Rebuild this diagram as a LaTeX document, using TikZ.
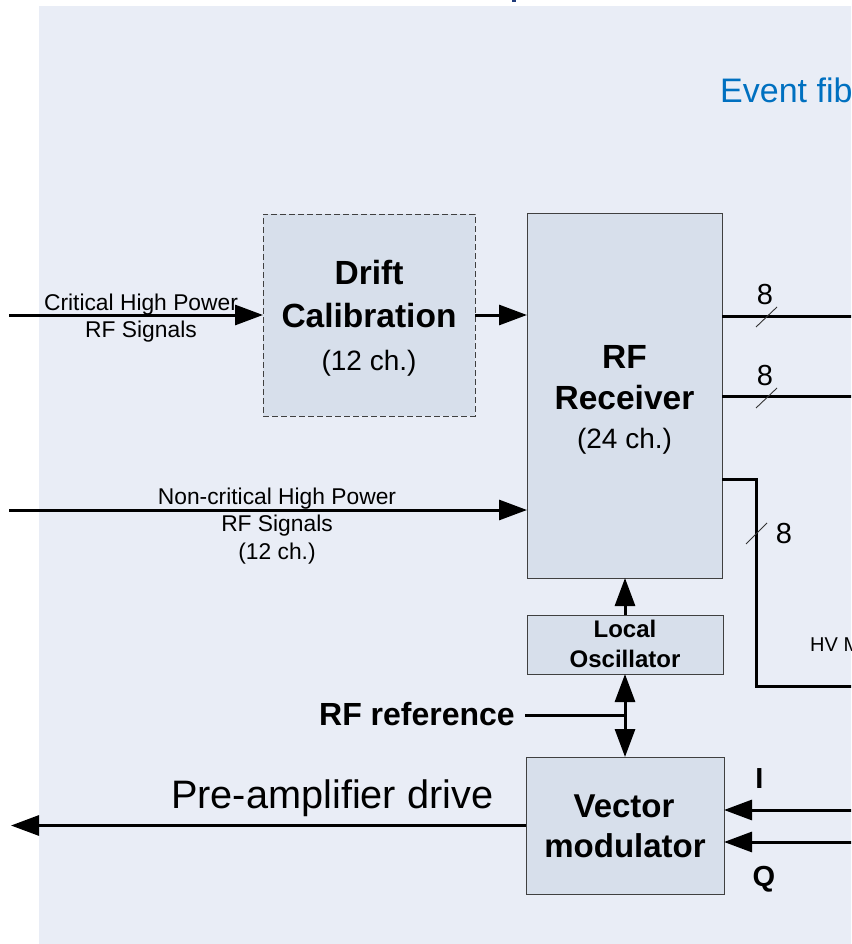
\documentclass[tikz,border=0pt]{standalone}
\usepackage{fontspec}
\setmainfont{Liberation Sans}
\usetikzlibrary{arrows.meta}
\definecolor{panel}{HTML}{E9EDF6}
\definecolor{boxfill}{HTML}{D7DFEB}
\definecolor{boxline}{HTML}{404040}
\definecolor{evblue}{HTML}{0070C0}
\definecolor{navy}{HTML}{1F3A7A}
\newcommand\fsz[1]{\fontsize{#1}{#1}\selectfont}
\begin{document}
\begin{tikzpicture}[x=1pt,y=-1pt,
  box/.style={draw=boxline, fill=boxfill, line width=1pt, inner sep=0pt, outer sep=0pt},
  conn/.style={line width=3pt, draw=black},
  arr/.style={conn, -{Triangle[length=28pt,width=20pt]}},
  darr/.style={conn, {Triangle[length=28pt,width=20pt]}-{Triangle[length=28pt,width=20pt]}},
  slashmark/.style={line width=0.9pt, draw=black!80},
  txt/.style={inner sep=0pt, anchor=base, text=black},
]
\useasboundingbox (0,0) rectangle (851,944);
\clip (0,0) rectangle (851,944);
% panel
\fill[panel] (39,6) rectangle (860,950);
\fill[navy] (512,0) rectangle (516,2.5);
\node[txt, anchor=base west, text=evblue, font=\fsz{34}] (event) at (720,103) {Event fib};

% boxes
\node[box, dashed, dash pattern=on 6pt off 3pt, minimum width=212pt, minimum height=202pt] (drift) at (369,315) {};
\node[box, minimum width=195pt, minimum height=365pt] (rf) at (624.5,395.5) {};
\node[box, minimum width=196pt, minimum height=59pt] (lo) at (625,644.5) {};
\node[box, minimum width=198pt, minimum height=137pt] (vm) at (625,825.5) {};

% box texts
\node[txt, font=\fsz{33.5}\bfseries] (drift1) at (369,284.5) {Drift};
\node[txt, font=\fsz{33.5}\bfseries] (drift2) at (369,327) {Calibration};
\node[txt, font=\fsz{28}] (drift3) at (369,370) {(12 ch.)};
\node[txt, font=\fsz{33.5}\bfseries] (rf1) at (624.5,368) {RF};
\node[txt, font=\fsz{33.5}\bfseries] (rf2) at (624.5,409) {Receiver};
\node[txt, font=\fsz{28}] (rf3) at (624.5,448) {(24 ch.)};
\node[txt, font=\fsz{24}\bfseries] (lo1) at (625,637) {Local};
\node[txt, font=\fsz{24}\bfseries] (lo2) at (625,667) {Oscillator};
\node[txt, font=\fsz{33}\bfseries] (vm1) at (624,817) {Vector};
\node[txt, font=\fsz{33}\bfseries] (vm2) at (625,857) {modulator};

% input signals
\coordinate (critin) at (9,315);
\coordinate (ncin) at (9,510);
\draw[arr] (critin) -- (drift.west);
\draw[arr] (drift.east) -- (drift.east -| rf.west);
\draw[arr] (ncin) -- (ncin -| rf.west);
\node[txt, font=\fsz{22.8}] (crit1) at (141,310) {Critical High Power};
\node[txt, font=\fsz{22.8}] (crit2) at (141,337) {RF Signals};
\node[txt, font=\fsz{22.8}] (nc1) at (277,504) {Non-critical High Power};
\node[txt, font=\fsz{22.8}] (nc2) at (277,531) {RF Signals};
\node[txt, font=\fsz{22.8}] (nc3) at (277,559) {(12 ch.)};

% outputs of receiver
\coordinate (o1) at (860,316);
\coordinate (o2) at (860,396);
\coordinate (o3a) at (756,479);
\coordinate (o3b) at (756,686);
\coordinate (o3c) at (860,686);
\draw[conn] (o1 -| rf.east) -- (o1);
\draw[conn] (o2 -| rf.east) -- (o2);
\draw[conn] (o3a -| rf.east) -- (o3a) -- (o3b) -- (o3c);
\draw[slashmark] (756,327) -- (777,307);
\draw[slashmark] (756,408) -- (777,388);
\draw[slashmark] (746,544) -- (767,523);
\node[txt, font=\fsz{29}] (n1) at (765,304) {8};
\node[txt, font=\fsz{29}] (n2) at (765,385) {8};
\node[txt, font=\fsz{29}] (n3) at (784,543) {8};
\node[txt, anchor=base west, font=\fsz{20}] (hv) at (810,651) {HV M};

% LO and reference
\draw[arr] (lo.north) -- (lo.north |- rf.south);
\draw[darr] (lo.south) -- (vm.north);
\node[txt, anchor=base east, inner xsep=10pt, font=\fsz{32}\bfseries] (rfref) at (525,725) {RF reference};
\coordinate (refj) at (625,715);
\draw[conn] (refj -| rfref.east) -- (refj);

% vector modulator I/O
\coordinate (paout) at (11,826);
\draw[arr] (vm.west) -- (vm.west -| paout);
\node[txt, anchor=base west, font=\fsz{39.7}] (pa) at (171,808) {Pre-amplifier drive};
\coordinate (iin) at (860,810);
\coordinate (qin) at (860,842);
\draw[arr] (iin) -- (iin -| vm.east);
\draw[arr] (qin) -- (qin -| vm.east);
\node[txt, font=\fsz{29}\bfseries] (ilab) at (759.5,788) {I};
\node[txt, font=\fsz{29}\bfseries] (qlab) at (764,886) {Q};
\end{tikzpicture}
\end{document}
